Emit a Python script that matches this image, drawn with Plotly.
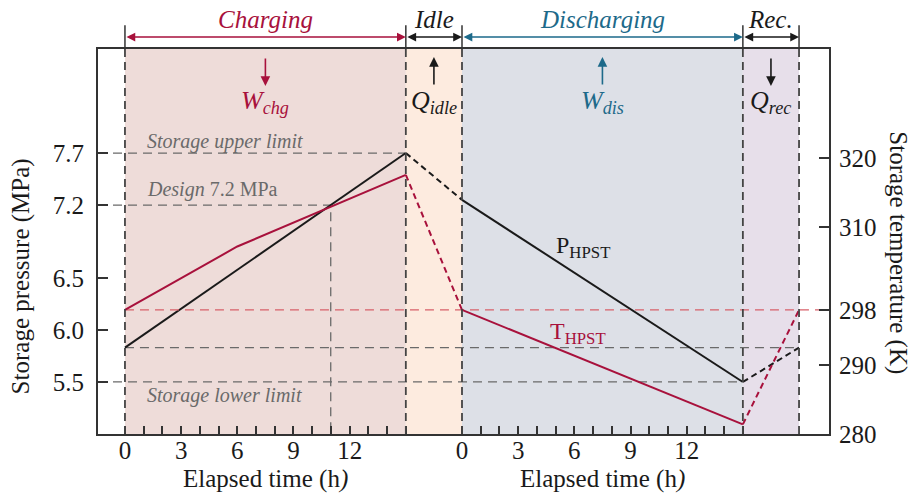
import numpy as np
import plotly.graph_objects as go

# Phase boundaries on a continuous time axis (h): charging, idle, discharging, recovery
phase_edges = [0, 15, 18, 33, 36]
phase_names = ["Charging", "Idle", "Discharging", "Rec."]
phase_fill = ["#eedcd9", "#fdebdf", "#dde0e7", "#e7dfea"]

# Storage pressure (MPa), HPST
p_chg_t, p_chg = [0, 15], [5.83, 7.7]
p_idle_t, p_idle = [15, 18], [7.7, 7.25]
p_dis_t, p_dis = [18, 33], [7.25, 5.5]
p_rec_t, p_rec = [33, 36], [5.5, 5.83]

# Storage temperature (K), HPST
t_chg_t, t_chg = [0, 6, 15], [298, 307.2, 317.6]
t_idle_t, t_idle = [15, 18], [317.6, 298]
t_dis_t, t_dis = [18, 33], [298, 281.4]
t_rec_t, t_rec = [33, 36], [281.4, 298]

# Pressure limits (MPa) and ambient temperature (K)
p_upper, p_design, p_lower = 7.7, 7.2, 5.5
t_ambient = 298

# Axis ticks
p_ticks = [5.5, 6.0, 6.5, 7.2, 7.7]
t_ticks = [280, 290, 298, 310, 320]
hour_labels = [0, 3, 6, 9, 12]

X_RANGE = [-1.44, 37.6]
P_RANGE = [5.0, 8.7]
T_RANGE = [280, 335.85]

CRIMSON = "#a8113c"
TEAL = "#1d6a8a"
INK = "#1a1a1a"
GREY = "#6a6a6a"
FONT = "Liberation Serif"


def label(fig, text, x, y, size, color=INK, xref="x", yref="paper", xanchor="center", angle=0):
    fig.add_annotation(x=x, y=y, xref=xref, yref=yref, xanchor=xanchor, yanchor="middle",
                       showarrow=False, text=text, textangle=angle,
                       font=dict(family=FONT, size=size, color=color))


fig = go.Figure()

# Phase background bands
for i, c in enumerate(phase_fill):
    fig.add_shape(type="rect", xref="x", yref="paper", x0=phase_edges[i], x1=phase_edges[i + 1],
                  y0=0, y1=1, fillcolor=c, line_width=0, layer="below")

# Phase boundaries: dashed inside, solid stubs above the frame
for xe in phase_edges:
    fig.add_shape(type="line", xref="x", yref="paper", x0=xe, x1=xe, y0=0, y1=1,
                  line=dict(color="#444444", width=1.8, dash="8px,5px"))
    fig.add_shape(type="line", xref="x", yref="paper", x0=xe, x1=xe, y0=1, y1=1.062,
                  line=dict(color="#333333", width=1.5))

# Reference lines
x_design = float(np.interp(p_design, p_chg, p_chg_t))
ref = dict(color=GREY, width=1.3, dash="9px,6px")
fig.add_trace(go.Scatter(x=[X_RANGE[0], p_chg_t[-1]], y=[p_upper, p_upper], mode="lines", line=ref, hoverinfo="skip"))
fig.add_trace(go.Scatter(x=[X_RANGE[0], x_design, x_design], y=[p_design, p_design, P_RANGE[0]],
                         mode="lines", line=ref, hoverinfo="skip"))
fig.add_trace(go.Scatter(x=[X_RANGE[0], p_dis_t[-1]], y=[p_lower, p_lower], mode="lines", line=ref, hoverinfo="skip"))
fig.add_trace(go.Scatter(x=[p_chg_t[0], p_rec_t[-1]], y=[p_chg[0], p_chg[0]], mode="lines", line=ref, hoverinfo="skip"))
fig.add_trace(go.Scatter(x=[t_chg_t[0], X_RANGE[1]], y=[t_ambient, t_ambient], yaxis="y2", mode="lines",
                         line=dict(color="#d8606a", width=1.2, dash="9px,6px"), hoverinfo="skip"))

# Pressure curve
for xs, ys, dsh in [(p_chg_t, p_chg, "solid"), (p_idle_t, p_idle, "6px,4px"),
                    (p_dis_t, p_dis, "solid"), (p_rec_t, p_rec, "6px,4px")]:
    fig.add_trace(go.Scatter(x=xs, y=ys, mode="lines", line=dict(color=INK, width=2, dash=dsh)))

# Temperature curve
for xs, ys, dsh in [(t_chg_t, t_chg, "solid"), (t_idle_t, t_idle, "6px,4px"),
                    (t_dis_t, t_dis, "solid"), (t_rec_t, t_rec, "6px,4px")]:
    fig.add_trace(go.Scatter(x=xs, y=ys, yaxis="y2", mode="lines", line=dict(color=CRIMSON, width=2, dash=dsh)))

# Hour ticks: labels every 3 h, minor ticks every hour within charging and discharging
major_vals, major_text, minor_vals = [], [], []
for start in (phase_edges[0], phase_edges[2]):
    for h in range(0, 16):
        if h in hour_labels:
            major_vals.append(start + h)
            major_text.append(str(h))
        else:
            minor_vals.append(start + h)

axis_font = dict(family=FONT, size=25, color=INK)
fig.update_layout(
    width=914, height=494,
    margin=dict(l=98, r=85, t=49, b=60),
    paper_bgcolor="white", plot_bgcolor="white",
    showlegend=False,
    font=dict(family=FONT, color=INK),
    xaxis=dict(range=X_RANGE, tickvals=major_vals, ticktext=major_text, ticks="inside", ticklen=8,
               tickwidth=1.5, tickcolor="#333",
               minor=dict(tickvals=minor_vals, ticks="inside", ticklen=8, tickwidth=1.5, tickcolor="#333",
                          showgrid=False),
               showgrid=False, zeroline=False, showline=True,
               linecolor="#333", linewidth=2, mirror=True, tickfont=axis_font, ticklabelstandoff=-7),
    yaxis=dict(range=P_RANGE, tickvals=p_ticks, ticktext=[f"{v:.1f}" for v in p_ticks], ticks="inside",
               ticklen=10, tickwidth=1.5, tickcolor="#333", showgrid=False, zeroline=False, showline=True,
               linecolor="#333", linewidth=2, tickfont=axis_font, ticklabelstandoff=7),
    yaxis2=dict(range=T_RANGE, overlaying="y", side="right", tickvals=t_ticks, ticks="inside", ticklen=10,
                tickwidth=1.5, tickcolor="#333", showgrid=False, zeroline=False, showline=True,
                linecolor="#333", linewidth=2, tickfont=axis_font, ticklabelstandoff=3),
)

# Phase spans above the frame
phase_colors = [CRIMSON, INK, TEAL, INK]
for i, name in enumerate(phase_names):
    x0, x1 = phase_edges[i], phase_edges[i + 1]
    fig.add_annotation(x=x1, y=1.031, xref="x", yref="paper", ax=x0, ay=0, axref="x", ayref="pixel",
                       showarrow=True, arrowhead=2, startarrowhead=2, arrowside="end+start",
                       arrowsize=1.1, arrowwidth=1.6, arrowcolor=phase_colors[i], text="")
    label(fig, f"<i>{name}</i>", (x0 + x1) / 2, 1.077, 25, phase_colors[i])

# Energy / heat flow arrows inside each phase
flows = [("W", "chg", CRIMSON, "down"), ("Q", "idle", INK, "up"),
         ("W", "dis", TEAL, "up"), ("Q", "rec", INK, "down")]
for i, (sym, sub, col, direction) in enumerate(flows):
    xm = (phase_edges[i] + phase_edges[i + 1]) / 2
    if direction == "down":
        y_tip, ay = 0.904, -29
    else:
        y_tip, ay = 0.979, 29
    fig.add_annotation(x=xm, y=y_tip, xref="x", yref="paper", ax=0, ay=ay, axref="pixel",
                       ayref="pixel", showarrow=True, arrowhead=2, arrowsize=1.2, arrowwidth=1.6,
                       arrowcolor=col, text="")
    label(fig, f"<i>{sym}</i><sub><i>{sub}</i></sub>", xm, 0.862, 26, col)

# Limit labels
label(fig, "<i>Storage upper limit</i>", 1.05, 0.761, 20, GREY, xanchor="left")
label(fig, "<i>Design</i> 7.2 MPa", 1.05, 0.634, 20, GREY, xanchor="left")
label(fig, "<i>Storage lower limit</i>", 1.05, 0.099, 20, GREY, xanchor="left")

# Curve labels
label(fig, "P<sub>HPST</sub>", 22.9, 0.485, 24, INK, xanchor="left")
label(fig, "T<sub>HPST</sub>", 22.6, 0.262, 24, CRIMSON, xanchor="left")

# Axis titles
for xm in (7.5, 25.5):
    label(fig, "Elapsed time (h<i>)</i>", xm, -0.116, 25)
label(fig, "Storage pressure (MPa)", -0.105, 0.41, 25, xref="paper", angle=-90)
label(fig, "Storage temperature (K)", 1.094, 0.47, 25, xref="paper", angle=90)

fig.write_html("out.html")
